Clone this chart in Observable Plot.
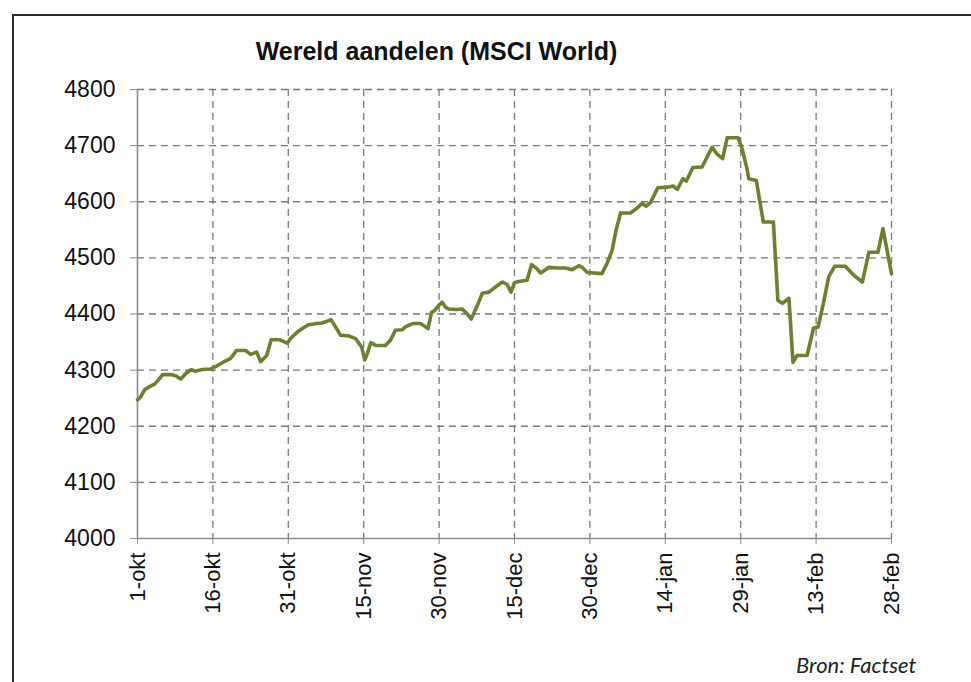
<!DOCTYPE html>
<html>
<head>
<meta charset="utf-8">
<script src="https://cdn.jsdelivr.net/npm/d3@7"></script>
<script src="https://cdn.jsdelivr.net/npm/@observablehq/plot@0.6"></script>
<style>
  body { margin: 0; background: #fff; }
  #wrap { position: relative; width: 971px; height: 682px; overflow: hidden; background: #fff; }
  #frame { position: absolute; left: 12px; top: 14px; width: 1000px; height: 720px; border: 2px solid #2a2a2a; box-sizing: border-box; }
  #title { position: absolute; left: 0; width: 873px; top: 37px; text-align: center; font-family: "Liberation Sans", Arial, sans-serif; font-weight: bold; font-size: 25px; color: #111; white-space: nowrap; }
  #source { position: absolute; left: 796px; top: 651px; font-family: Lato, "Open Sans", sans-serif; font-style: italic; font-size: 22px; color: #222; white-space: nowrap; }
  #chart { position: absolute; left: 0; top: 0; }
</style>
</head>
<body>
<div id="wrap">
  <div id="frame"></div>
  <div id="chart"></div>
  <div id="title">Wereld aandelen (MSCI World)</div>
  <div id="source">Bron: Factset</div>
</div>
<script>
// Days since 1 October (reading positions from the reference)
const days = [0, 0.6, 1.4, 2.5, 3.4, 4.2, 5.0, 6.6, 7.6, 8.6, 9.6, 10.7, 11.5, 12.9, 14.5, 15.9, 17.2, 18.4, 18.8, 19.7,
  21.5, 22.5, 23.7, 24.5, 25.7, 26.6, 28.3, 29.8, 30.4, 31.8, 32.8, 34.0, 35.8, 36.7, 37.7, 38.5, 39.4, 40.4, 42.0, 43.4,
  44.6, 45.2, 45.7, 46.4, 47.4, 49.3, 50.3, 51.3, 52.7, 53.3, 54.7, 56.3, 57.8, 58.5, 59.1, 59.9, 60.6, 61.3, 61.9, 63.3,
  64.6, 65.6, 66.4, 67.6, 68.6, 69.9, 71.2, 72.6, 73.5, 74.3, 75.0, 75.9, 77.5, 78.4, 79.2, 80.2, 81.8, 83.5, 85.1, 86.5,
  87.8, 88.5, 89.5, 90.8, 92.4, 93.4, 94.4, 95.2, 96.1, 98.1, 99.4, 100.4, 101.2, 102.1, 103.5, 105.4, 106.5, 107.4, 108.5, 109.2,
  110.5, 112.3, 114.3, 115.3, 116.4, 117.3, 119.5, 120.3, 121.3, 121.6, 123.1, 124.5, 126.5, 127.4, 128.3, 129.6, 130.4, 131.2, 133.2, 134.5,
  135.4, 136.5, 137.5, 138.7, 140.8, 142.5, 144.2, 145.5, 147.3, 148.3, 150];
// MSCI World index level
const values = [4247, 4252, 4265, 4271, 4275, 4283, 4292, 4292, 4290, 4284, 4294, 4301, 4298, 4301, 4302, 4308, 4315, 4320, 4324, 4335,
  4335, 4328, 4332, 4315, 4326, 4354, 4354, 4348, 4356, 4368, 4374, 4381, 4383, 4384, 4387, 4390, 4377, 4362, 4361, 4356,
  4341, 4318, 4329, 4349, 4344, 4344, 4353, 4371, 4372, 4377, 4383, 4383, 4374, 4403, 4406, 4415, 4421, 4412, 4409, 4408,
  4409, 4400, 4391, 4415, 4437, 4439, 4448, 4457, 4453, 4439, 4456, 4458, 4460, 4488, 4483, 4473, 4483, 4482, 4482, 4479,
  4486, 4483, 4474, 4473, 4472, 4490, 4513, 4549, 4580, 4580, 4589, 4597, 4592, 4599, 4625, 4626, 4628, 4622, 4641, 4637,
  4661, 4662, 4697, 4685, 4677, 4714, 4714, 4694, 4657, 4641, 4638, 4564, 4564, 4424, 4419, 4428, 4314, 4326, 4326, 4375,
  4377, 4421, 4466, 4485, 4485, 4469, 4457, 4510, 4510, 4552, 4472];

const xTickDays = [0, 15, 30, 45, 60, 75, 90, 105, 120, 135, 150];
const xTickLabels = ["1-okt", "16-okt", "31-okt", "15-nov", "30-nov", "15-dec", "30-dec", "14-jan", "29-jan", "13-feb", "28-feb"];
const yTicks = [4000, 4100, 4200, 4300, 4400, 4500, 4600, 4700, 4800];

const data = days.map((d, i) => ({day: d, value: values[i]}));
const labelByDay = new Map(xTickDays.map((d, i) => [d, xTickLabels[i]]));

const gridColor = "#7a7a7a";
const axisColor = "#8c8c8c";

const chart = Plot.plot({
  width: 971,
  height: 682,
  marginLeft: 137,
  marginRight: 80,
  marginTop: 89,
  marginBottom: 144,
  style: {fontFamily: "'Liberation Sans', Arial, sans-serif", background: "transparent", overflow: "visible", color: "#111"},
  x: {domain: [0, 150], label: null},
  y: {domain: [4000, 4800], label: null},
  marks: [
    Plot.gridY(yTicks.filter(v => v > 4000), {stroke: gridColor, strokeOpacity: 1, strokeWidth: 1.3, strokeDasharray: "7,5"}),
    Plot.gridX(xTickDays.filter(v => v > 0), {stroke: gridColor, strokeOpacity: 1, strokeWidth: 1.3, strokeDasharray: "7,5"}),
    Plot.ruleX([0], {stroke: axisColor, strokeWidth: 1.6}),
    Plot.ruleY([4000], {stroke: axisColor, strokeWidth: 1.6}),
    Plot.axisY(yTicks, {tickSize: 7, tickPadding: 15, stroke: axisColor, fill: "#111", fontSize: 23, label: null,
      tickFormat: d => String(d)}),
    Plot.axisX(xTickDays, {tickSize: 6, tickPadding: 8, tickRotate: -90, stroke: axisColor, fill: "#111", fontSize: 22, label: null,
      tickFormat: d => labelByDay.get(d)}),
    Plot.line(data, {x: "day", y: "value", stroke: "#6b8030", strokeWidth: 3.6, strokeLinejoin: "round"})
  ]
});
document.getElementById("chart").appendChild(chart);
</script>
</body>
</html>
